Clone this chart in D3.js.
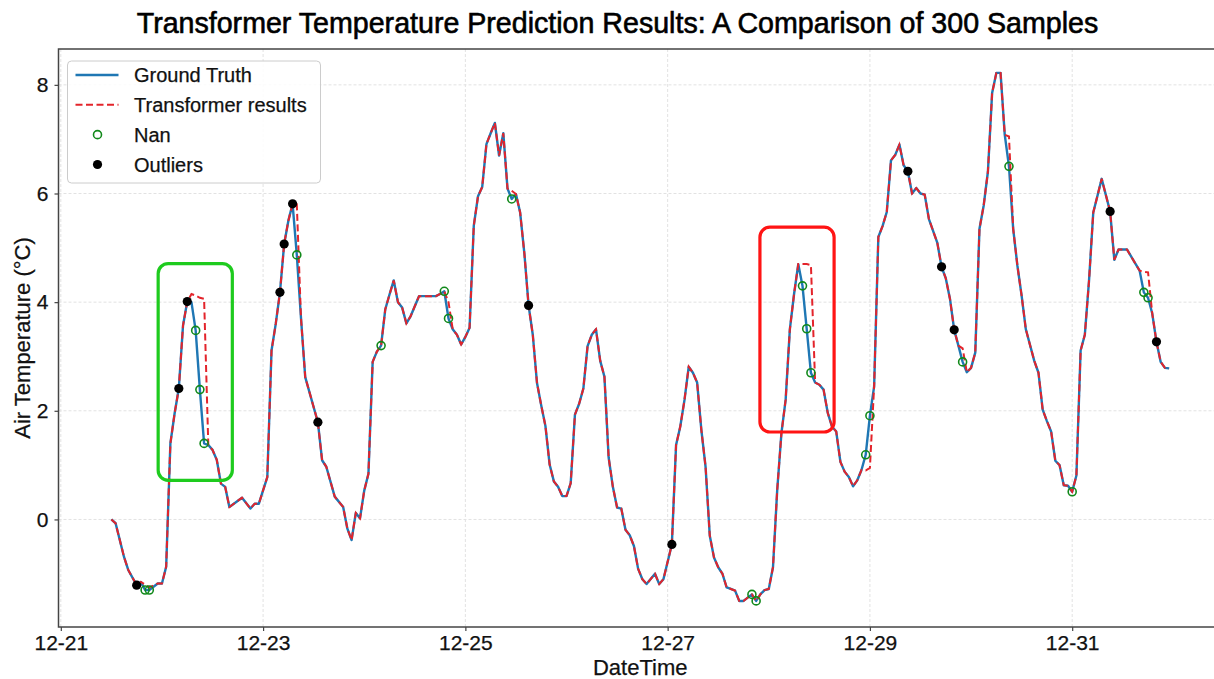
<!DOCTYPE html>
<html>
<head>
<meta charset="utf-8">
<script src="https://cdn.jsdelivr.net/npm/d3@7"></script>
<style>
  body { margin: 0; background: #fff; }
  svg { display: block; font-family: "Liberation Sans", Arial, sans-serif; }
</style>
</head>
<body>
<div id="chart"></div>
<script>
// hours after 2023-12-21 00:00 and the measured air temperature
let hours = [
  12, 13, 15, 16, 18, 19, 20, 21, 23, 24, 25, 26, 27, 28, 29, 30, 31, 32, 33, 34,
  35, 36, 37, 38, 39, 40, 43, 45, 46, 47, 49, 50, 51, 52, 53, 54, 55, 56, 57, 58,
  61, 62, 63, 65, 67, 68, 69, 70, 71, 72, 73, 74, 75, 76, 77, 78, 79, 80, 81, 82,
  83, 85, 89, 90, 91, 92, 93, 94, 95, 96, 97, 98, 99, 100, 101, 102, 103, 104, 105, 106,
  107, 108, 109, 110, 111, 112, 113, 114, 115, 116, 117, 118, 119, 120, 121, 122, 123, 124, 125, 126,
  127, 128, 129, 130, 131, 132, 133, 134, 135, 136, 137, 138, 139, 141, 142, 143, 145, 146, 147, 148,
  149, 150, 151, 152, 153, 154, 155, 156, 157, 158, 159, 160, 161, 162, 164, 165, 166, 167, 168, 169,
  170, 171, 172, 173, 174, 175, 176, 177, 178, 179, 180, 181, 182, 183, 184, 185, 186, 187, 188, 189,
  190, 191, 192, 193, 194, 195, 196, 197, 198, 199, 200, 201, 202, 203, 204, 205, 206, 208, 209, 210,
  211, 212, 213, 214, 215, 216, 217, 218, 219, 220, 221, 222, 223, 224, 225, 226, 227, 228, 229, 231,
  232, 233, 234, 235, 236, 237, 238, 239, 240, 241, 242, 243, 244, 245, 246, 247, 249, 250, 251, 253,
  255, 256, 257, 258, 259, 260, 261, 262, 263
];
let groundTruth = [
  0.0, -0.07, -0.69, -0.93, -1.21, -1.15, -1.3, -1.3, -1.18, -1.18, -0.87, 1.4, 1.95, 2.41, 3.57, 4.01, 4.0, 3.48, 2.39, 1.4,
  1.37, 1.28, 1.1, 0.66, 0.6, 0.23, 0.4, 0.2, 0.29, 0.29, 0.78, 3.11, 3.6, 4.18, 5.07, 5.5, 5.81, 4.87, 3.7, 2.62,
  1.79, 1.09, 0.97, 0.42, 0.23, -0.17, -0.38, 0.12, 0.02, 0.53, 0.84, 2.9, 3.09, 3.2, 3.87, 4.14, 4.4, 4.0, 3.9, 3.61,
  3.74, 4.11, 4.11, 4.15, 4.2, 3.7, 3.5, 3.4, 3.22, 3.36, 3.53, 5.41, 5.95, 6.12, 6.91, 7.11, 7.3, 6.7, 7.11, 6.09,
  5.9, 5.99, 5.65, 4.9, 3.94, 3.4, 2.51, 2.1, 1.72, 1.01, 0.7, 0.6, 0.43, 0.43, 0.67, 1.93, 2.13, 2.41, 3.19, 3.4,
  3.5, 2.92, 2.63, 1.14, 0.6, 0.22, 0.2, -0.19, -0.29, -0.49, -0.91, -1.1, -1.19, -1.0, -1.19, -1.1, -0.46, 1.37, 1.71, 2.2,
  2.81, 2.7, 2.52, 1.65, 0.97, -0.3, -0.7, -0.88, -1.0, -1.25, -1.28, -1.31, -1.5, -1.5, -1.38, -1.5, -1.38, -1.3, -1.28, -0.88,
  0.54, 1.59, 2.2, 3.5, 4.15, 4.7, 4.3, 3.51, 2.7, 2.52, 2.48, 2.39, 1.96, 1.71, 1.62, 1.06, 0.88, 0.78, 0.61, 0.72,
  0.91, 1.19, 1.91, 2.45, 5.2, 5.4, 5.66, 6.61, 6.71, 6.9, 6.52, 6.41, 6.0, 6.1, 6.0, 5.98, 5.53, 5.09, 4.65, 4.44,
  4.06, 3.49, 3.2, 2.9, 2.71, 2.79, 3.07, 5.35, 5.78, 6.4, 7.85, 8.22, 8.22, 7.08, 6.5, 5.35, 4.67, 4.12, 3.5, 2.92,
  2.7, 2.02, 1.81, 1.62, 1.08, 1.0, 0.63, 0.62, 0.51, 0.81, 3.11, 3.4, 4.4, 5.65, 5.96, 6.27, 5.67, 4.78, 4.97, 4.97,
  4.71, 4.58, 4.18, 4.08, 3.79, 3.27, 2.9, 2.79, 2.78
];
// hours where the transformer output departs from the ground truth
let predHours  = [20, 21, 31, 32, 33, 34, 56, 92, 107, 176, 177, 178, 191, 192, 214, 225, 257, 258];
let predValues = [-1.2, -1.25, 4.15, 4.12, 4.08, 4.06, 5.8, 4.0, 6.05, 4.7, 4.7, 4.68, 0.9, 0.95, 3.15, 7.05, 4.56, 4.55];

let nanHours = [20, 21, 32, 33, 34, 56, 76, 91, 92, 107, 164, 165, 176, 177, 178, 191, 192, 214, 225, 240, 257, 258];
let outlierHours = [18, 28, 30, 52, 53, 55, 61, 111, 145, 201, 209, 212, 249, 260];

// highlighted windows: [start hour, end hour, low value, high value]
let greenWindow = [23.1, 40.7, 0.72, 4.71];
let redWindow = [165.9, 183.5, 1.61, 5.38];

let xTickLabels = ["12-21", "12-23", "12-25", "12-27", "12-29", "12-31"];
let yTicks = [0, 2, 4, 6, 8];
let yLimits = [-1.98, 8.66];

let width = 1214, height = 679;
let plotLeft = 58.5, plotRight = 1222, plotTop = 49, plotBottom = 627;
let startDate = new Date(2023, 11, 21);
let toDate = h => new Date(+startDate + h * 3600e3);

let pad = (d3.max(hours) - d3.min(hours)) * 0.05;
let x = d3.scaleTime()
    .domain([toDate(d3.min(hours) - pad), toDate(d3.max(hours) + pad)])
    .range([plotLeft, plotRight]);
let y = d3.scaleLinear().domain(yLimits).range([plotBottom, plotTop]);

let truthByHour = new Map(hours.map((h, i) => [h, groundTruth[i]]));
let predByHour = new Map(hours.map((h, i) => [h, groundTruth[i]]));
predHours.forEach((h, i) => predByHour.set(h, predValues[i]));

let truthData = hours.map(h => ({h: h, v: truthByHour.get(h)}));
let predData = hours.map(h => ({h: h, v: predByHour.get(h)}));
let nanData = nanHours.map(h => ({h: h, v: truthByHour.get(h)}));
let outlierData = outlierHours.map(h => ({h: h, v: truthByHour.get(h)}));

let tickDates = xTickLabels.map(s => d3.timeParse("%Y-%m-%d")("2023-" + s));

let svg = d3.select("#chart").append("svg")
    .attr("width", width)
    .attr("height", height);

// grid
let grid = svg.append("g").attr("class", "grid");
grid.selectAll("line.h").data(yTicks).enter().append("line")
    .attr("class", "h")
    .attr("x1", plotLeft).attr("x2", plotRight)
    .attr("y1", d => y(d)).attr("y2", d => y(d));
grid.selectAll("line.v").data(tickDates).enter().append("line")
    .attr("class", "v")
    .attr("x1", d => x(d)).attr("x2", d => x(d))
    .attr("y1", plotTop).attr("y2", plotBottom);
grid.selectAll("line")
    .style("stroke", "#e2e2e2").style("stroke-width", 1).style("stroke-dasharray", "3,2");

let line = d3.line()
    .x(d => x(toDate(d.h)))
    .y(d => y(d.v));

svg.append("path")
    .datum(truthData)
    .attr("d", line)
    .style("fill", "none")
    .style("stroke", "#1f77b4")
    .style("stroke-width", 2.4)
    .style("stroke-linejoin", "round");

svg.append("path")
    .datum(predData)
    .attr("d", line)
    .style("fill", "none")
    .style("stroke", "#e3242b")
    .style("stroke-width", 2)
    .style("stroke-dasharray", "7,3.5");

svg.append("g").selectAll("circle")
    .data(nanData).enter().append("circle")
    .attr("cx", d => x(toDate(d.h)))
    .attr("cy", d => y(d.v))
    .attr("r", 4)
    .style("fill", "none")
    .style("stroke", "#11891a")
    .style("stroke-width", 1.6);

svg.append("g").selectAll("circle")
    .data(outlierData).enter().append("circle")
    .attr("cx", d => x(toDate(d.h)))
    .attr("cy", d => y(d.v))
    .attr("r", 4.6)
    .style("fill", "#000");

// highlight boxes
[[greenWindow, "#1ecb1e"], [redWindow, "#ff1414"]].forEach(function(b) {
    let w = b[0];
    svg.append("rect")
        .attr("x", x(toDate(w[0])))
        .attr("y", y(w[3]))
        .attr("width", x(toDate(w[1])) - x(toDate(w[0])))
        .attr("height", y(w[2]) - y(w[3]))
        .attr("rx", 10)
        .style("fill", "none")
        .style("stroke", b[1])
        .style("stroke-width", 3.2);
});

// axes
let xAxis = svg.append("g")
    .attr("transform", "translate(0," + plotBottom + ")")
    .call(d3.axisBottom(x).tickValues(tickDates).tickFormat(d3.timeFormat("%m-%d")).tickSize(4).tickSizeOuter(0).tickPadding(4));
let yAxis = svg.append("g")
    .attr("transform", "translate(" + plotLeft + ",0)")
    .call(d3.axisLeft(y).tickValues(yTicks).tickSize(4).tickSizeOuter(0).tickPadding(6));

[xAxis, yAxis].forEach(function(a) {
    a.select(".domain").remove();
    a.selectAll(".tick line").style("stroke", "#444").style("stroke-width", 1.2);
    a.selectAll(".tick text")
        .style("font-family", "Liberation Sans, Arial, sans-serif")
        .style("font-size", "21px")
        .style("fill", "#111")
        .style("stroke", "#111")
        .style("stroke-width", 0.25);
});

// frame
svg.append("rect")
    .attr("x", plotLeft).attr("y", plotTop)
    .attr("width", plotRight - plotLeft).attr("height", plotBottom - plotTop)
    .style("fill", "none")
    .style("stroke", "#444")
    .style("stroke-width", 1.5);

// labels
svg.append("text")
    .attr("x", 617.5).attr("y", 33)
    .attr("text-anchor", "middle")
    .style("font-size", "28.6px")
    .style("fill", "#000")
    .style("stroke", "#000")
    .style("stroke-width", 0.6)
    .text("Transformer Temperature Prediction Results: A Comparison of 300 Samples");

svg.append("text")
    .attr("x", (plotLeft + plotRight) / 2).attr("y", 675)
    .attr("text-anchor", "middle")
    .style("font-size", "22px")
    .style("fill", "#111")
    .style("stroke", "#111")
    .style("stroke-width", 0.25)
    .text("DateTime");

svg.append("text")
    .attr("transform", "translate(30," + (plotTop + plotBottom) / 2 + ") rotate(-90)")
    .attr("text-anchor", "middle")
    .style("font-size", "22px")
    .style("fill", "#111")
    .style("stroke", "#111")
    .style("stroke-width", 0.25)
    .text("Air Temperature (°C)");

// legend
let legend = svg.append("g").attr("transform", "translate(67.5,61)");
legend.append("rect")
    .attr("width", 253).attr("height", 122)
    .attr("rx", 4)
    .style("fill", "#fff").style("fill-opacity", 0.85)
    .style("stroke", "#cccccc").style("stroke-width", 1);

let legendItems = ["Ground Truth", "Transformer results", "Nan", "Outliers"];
let rowY = d3.scalePoint().domain(legendItems).range([14, 103.5]);

legend.append("line")
    .attr("x1", 8).attr("x2", 51)
    .attr("y1", rowY("Ground Truth")).attr("y2", rowY("Ground Truth"))
    .style("stroke", "#1f77b4").style("stroke-width", 2.5);
legend.append("line")
    .attr("x1", 8).attr("x2", 51)
    .attr("y1", rowY("Transformer results")).attr("y2", rowY("Transformer results"))
    .style("stroke", "#e3242b").style("stroke-width", 2).style("stroke-dasharray", "7,3.5");
legend.append("circle")
    .attr("cx", 30).attr("cy", rowY("Nan")).attr("r", 4)
    .style("fill", "none").style("stroke", "#11891a").style("stroke-width", 1.6);
legend.append("circle")
    .attr("cx", 30).attr("cy", rowY("Outliers")).attr("r", 4.6)
    .style("fill", "#000");

legend.selectAll("text.item")
    .data(legendItems).enter().append("text")
    .attr("class", "item")
    .attr("x", 66.5)
    .attr("y", d => rowY(d))
    .attr("dy", "0.35em")
    .style("font-size", "20px")
    .style("fill", "#111")
    .style("stroke", "#111")
    .style("stroke-width", 0.25)
    .text(d => d);
</script>
</body>
</html>
